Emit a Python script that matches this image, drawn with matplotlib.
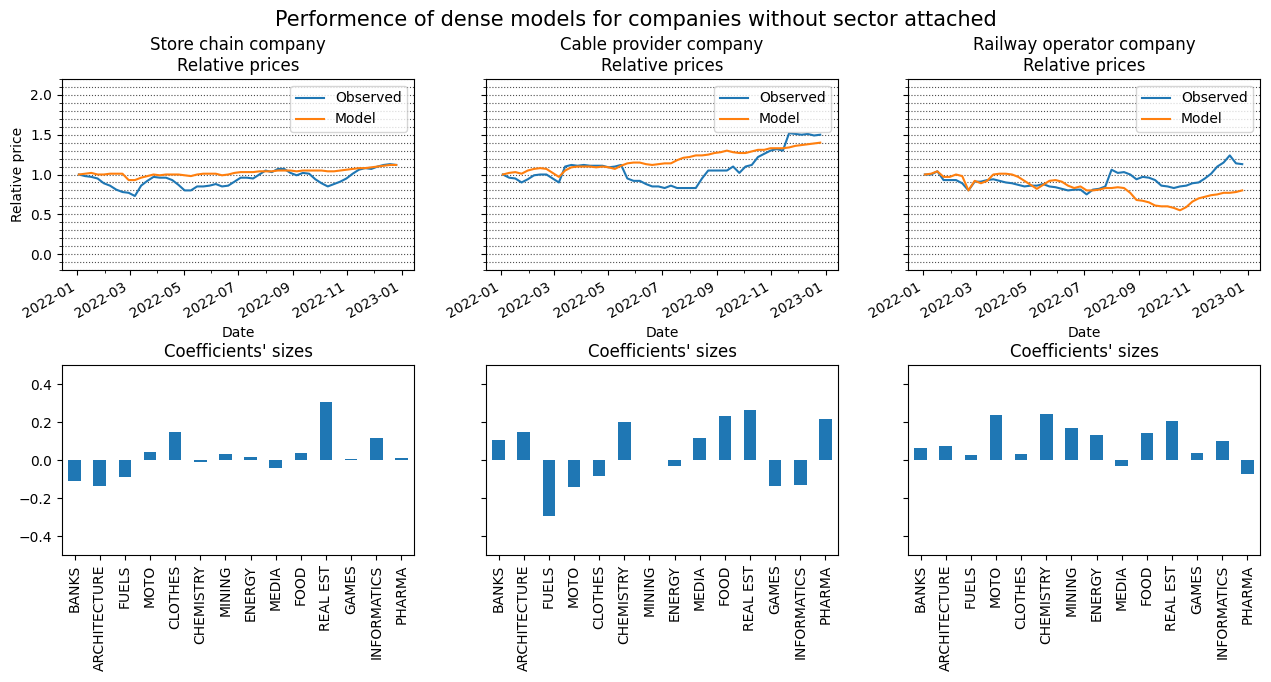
import numpy as np
import pandas as pd
import matplotlib
matplotlib.use("Agg")
import matplotlib.pyplot as plt
import matplotlib.dates as mdates
from matplotlib.ticker import MultipleLocator

# ---------------- data ----------------
dates = pd.date_range("2022-01-03", periods=52, freq="7D")

companies = ["Store chain company", "Cable provider company", "Railway operator company"]

store_observed = [1.00, 0.98, 0.97, 0.95, 0.89, 0.86, 0.81, 0.78, 0.77, 0.73,
                  0.86, 0.92, 0.97, 0.96, 0.96, 0.93, 0.87, 0.80, 0.80, 0.85,
                  0.85, 0.86, 0.88, 0.85, 0.86, 0.91, 0.96, 0.96, 0.95, 1.00,
                  1.05, 1.03, 1.07, 1.07, 1.02, 0.99, 1.02, 1.01, 0.94, 0.89,
                  0.85, 0.88, 0.91, 0.95, 1.01, 1.06, 1.08, 1.07, 1.10, 1.12,
                  1.13, 1.12]
store_model = [1.00, 1.01, 1.02, 1.00, 1.00, 1.01, 1.01, 1.01, 0.93, 0.93,
               0.96, 0.98, 1.00, 0.99, 1.00, 1.00, 1.00, 0.99, 0.98, 1.00,
               1.01, 1.01, 1.01, 0.99, 1.00, 1.02, 1.03, 1.03, 1.03, 1.04,
               1.04, 1.04, 1.05, 1.05, 1.05, 1.04, 1.05, 1.05, 1.05, 1.05,
               1.04, 1.04, 1.05, 1.06, 1.07, 1.08, 1.08, 1.09, 1.10, 1.11,
               1.12, 1.12]

cable_observed = [1.00, 0.96, 0.95, 0.90, 0.94, 0.99, 1.00, 1.00, 0.95, 0.90,
                  1.10, 1.12, 1.11, 1.12, 1.11, 1.11, 1.11, 1.09, 1.10, 1.12,
                  0.95, 0.92, 0.92, 0.88, 0.85, 0.85, 0.83, 0.86, 0.83, 0.83,
                  0.83, 0.83, 0.95, 1.05, 1.05, 1.05, 1.05, 1.10, 1.02, 1.10,
                  1.12, 1.22, 1.26, 1.30, 1.32, 1.30, 1.52, 1.51, 1.50, 1.51,
                  1.49, 1.50]
cable_model = [1.00, 1.02, 1.03, 1.01, 1.05, 1.07, 1.08, 1.07, 1.02, 0.97,
               1.05, 1.09, 1.10, 1.10, 1.10, 1.09, 1.10, 1.09, 1.07, 1.11,
               1.14, 1.15, 1.15, 1.13, 1.12, 1.13, 1.14, 1.14, 1.18, 1.21,
               1.22, 1.24, 1.24, 1.25, 1.27, 1.28, 1.30, 1.28, 1.27, 1.27,
               1.29, 1.31, 1.31, 1.33, 1.33, 1.33, 1.34, 1.36, 1.37, 1.38,
               1.39, 1.40]

rail_observed = [1.00, 1.00, 1.04, 0.93, 0.93, 0.93, 0.89, 0.80, 0.91, 0.91,
                 0.93, 0.94, 0.92, 0.90, 0.89, 0.87, 0.85, 0.86, 0.86, 0.88,
                 0.85, 0.84, 0.82, 0.80, 0.81, 0.81, 0.75, 0.81, 0.82, 0.85,
                 1.06, 1.02, 1.03, 1.00, 0.94, 0.97, 0.96, 0.93, 0.86, 0.85,
                 0.83, 0.85, 0.86, 0.89, 0.90, 0.95, 1.01, 1.10, 1.15, 1.24,
                 1.14, 1.13]
rail_model = [1.00, 1.01, 1.04, 0.97, 0.97, 1.00, 0.98, 0.80, 0.92, 0.89,
              0.92, 1.00, 1.01, 1.01, 1.00, 0.97, 0.92, 0.87, 0.82, 0.87,
              0.92, 0.93, 0.91, 0.86, 0.83, 0.85, 0.80, 0.80, 0.81, 0.83,
              0.83, 0.84, 0.83, 0.77, 0.68, 0.67, 0.65, 0.61, 0.60, 0.60,
              0.58, 0.55, 0.59, 0.66, 0.70, 0.72, 0.74, 0.75, 0.77, 0.77,
              0.78, 0.80]

sectors = ["BANKS", "ARCHITECTURE", "FUELS", "MOTO", "CLOTHES", "CHEMISTRY",
           "MINING", "ENERGY", "MEDIA", "FOOD", "REAL EST", "GAMES",
           "INFORMATICS", "PHARMA"]

store_coefs = [-0.111, -0.138, -0.090, 0.042, 0.149, -0.011, 0.032, 0.016,
               -0.042, 0.037, 0.303, 0.005, 0.117, 0.011]
cable_coefs = [0.106, 0.149, -0.297, -0.143, -0.085, 0.202, 0.0, -0.032,
               0.117, 0.234, 0.265, -0.138, -0.133, 0.218]
rail_coefs = [0.064, 0.074, 0.027, 0.239, 0.032, 0.244, 0.170, 0.133,
              -0.032, 0.143, 0.207, 0.037, 0.101, -0.074]

observed = [store_observed, cable_observed, rail_observed]
model = [store_model, cable_model, rail_model]
coefs = [store_coefs, cable_coefs, rail_coefs]

# ---------------- figure ----------------
W, H = 1271, 682
fig = plt.figure(figsize=(W / 100, H / 100), dpi=100)
fig.suptitle("Performence of dense models for companies without sector attached",
             fontsize=15, y=0.985)

lefts = [62, 486, 908]
axw = 352
top_ax = []
bot_ax = []
for i in range(3):
    a = fig.add_axes([lefts[i] / W, 1 - 270 / H, axw / W, 191 / H],
                     sharey=top_ax[0] if top_ax else None)
    top_ax.append(a)
for i in range(3):
    b = fig.add_axes([lefts[i] / W, 1 - 555 / H, axw / W, 190 / H],
                     sharey=bot_ax[0] if bot_ax else None)
    bot_ax.append(b)

for i, ax in enumerate(top_ax):
    ax.plot(dates, observed[i], color="#1f77b4", label="Observed", lw=1.5)
    ax.plot(dates, model[i], color="#ff7f0e", label="Model", lw=1.5)
    ax.set_ylim(-0.2, 2.2)
    ax.yaxis.set_major_locator(MultipleLocator(0.5))
    ax.yaxis.set_minor_locator(MultipleLocator(0.1))
    ax.xaxis.set_major_locator(mdates.MonthLocator(bymonth=[1, 3, 5, 7, 9, 11]))
    ax.xaxis.set_minor_locator(mdates.MonthLocator())
    ax.xaxis.set_major_formatter(mdates.DateFormatter("%Y-%m"))
    ax.set_xlim(pd.Timestamp("2021-12-15"), pd.Timestamp("2023-01-15"))
    ax.grid(True, which="both", axis="y", linestyle=":", color="0.3", lw=0.8)
    for lab in ax.get_xticklabels():
        lab.set_rotation(30)
        lab.set_ha("right")
    ax.set_xlabel("Date")
    ax.set_title(companies[i] + "\nRelative prices", fontsize=12)
    ax.legend(loc="upper right", fontsize=10)
    if i == 0:
        ax.set_ylabel("Relative price")
    else:
        ax.tick_params(axis="y", labelleft=False)

x = np.arange(len(sectors))
for i, ax in enumerate(bot_ax):
    ax.bar(x, coefs[i], width=0.5, color="#1f77b4")
    ax.set_xlim(-0.5, len(sectors) - 0.5)
    ax.set_ylim(-0.5, 0.5)
    ax.set_yticks([-0.4, -0.2, 0.0, 0.2, 0.4])
    ax.set_xticks(x)
    ax.set_xticklabels(sectors, rotation=90)
    ax.set_title("Coefficients' sizes", fontsize=12)
    if i != 0:
        ax.tick_params(axis="y", labelleft=False)

fig.savefig("out.png", dpi=100)
